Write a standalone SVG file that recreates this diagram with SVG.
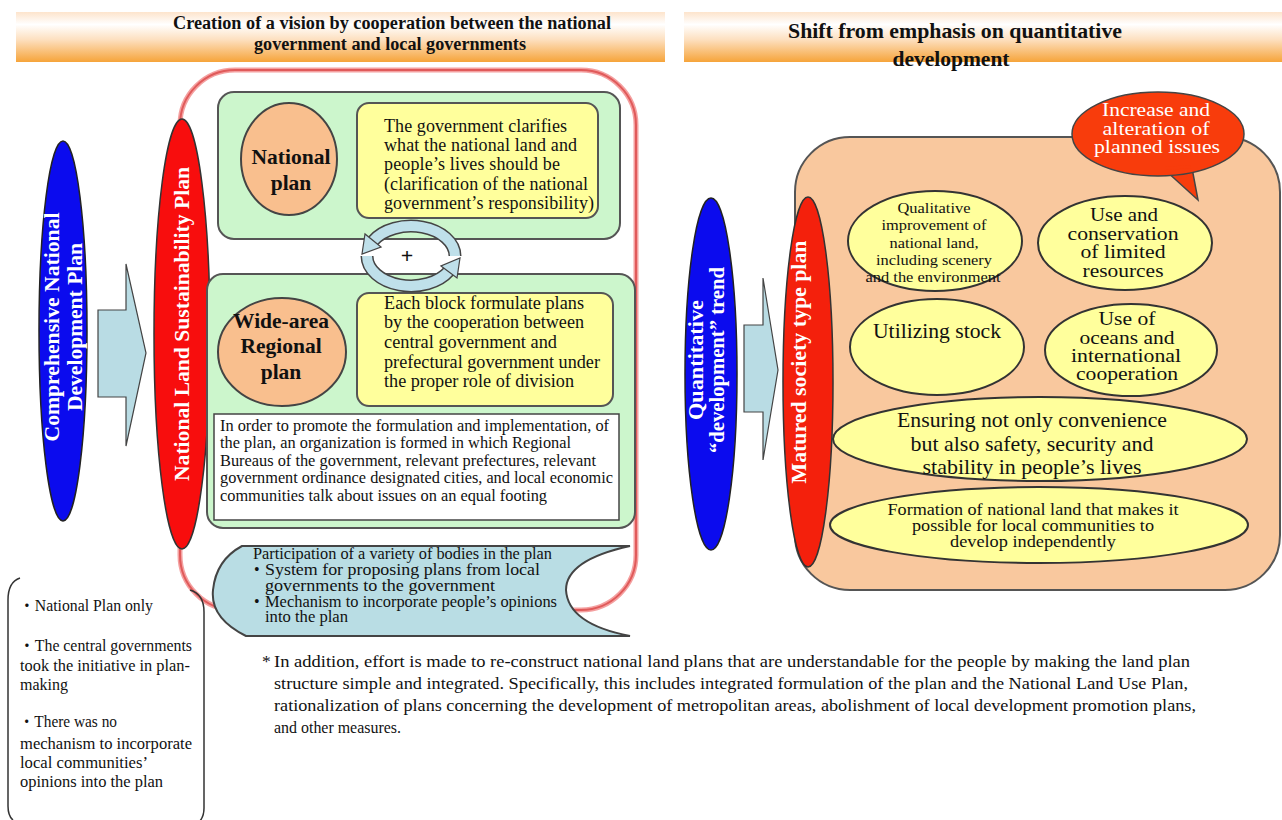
<svg xmlns="http://www.w3.org/2000/svg" width="1282" height="820" viewBox="0 0 1282 820">
<defs>
<linearGradient id="hdr" x1="0" y1="0" x2="0" y2="1">
<stop offset="0" stop-color="#fde4cc"/>
<stop offset="0.25" stop-color="#ffffff"/>
<stop offset="0.55" stop-color="#fde0c0"/>
<stop offset="1" stop-color="#f6a43a"/>
</linearGradient>
<style>
.t{font-family:"Liberation Serif","Times New Roman","Noto Sans CJK JP",serif;fill:#111}
.b{font-weight:bold}
.w{fill:#fff}
.ln{fill:none;stroke:#333;stroke-width:1.5}
.green{fill:#ccf6cc;stroke:#555;stroke-width:2}
.yel{fill:#ffff9c;stroke:#555;stroke-width:2}
.peach{fill:#f9bf8e;stroke:#444;stroke-width:2}
.yell{fill:#ffff9c;stroke:#333;stroke-width:2}
.arw{fill:#b9dce4;stroke:#444;stroke-width:1.2}
</style>
</defs>
<rect width="1282" height="820" fill="#fff"/>

<g id="header-left">
<rect x="16" y="12" width="649" height="50" fill="url(#hdr)"/>
<text class="t b" x="392" y="29" font-size="18" text-anchor="middle" textLength="438" lengthAdjust="spacingAndGlyphs">Creation of a vision by cooperation between the national</text>
<text class="t b" x="390" y="50" font-size="18" text-anchor="middle" textLength="272" lengthAdjust="spacingAndGlyphs">government and local governments</text>
</g>
<g id="header-right">
<rect x="684" y="12" width="598" height="50" fill="url(#hdr)"/>
<text class="t b" x="955" y="38" font-size="21.5" text-anchor="middle" textLength="334" lengthAdjust="spacingAndGlyphs">Shift from emphasis on quantitative</text>
<text class="t b" x="951" y="66" font-size="21.5" text-anchor="middle" textLength="117" lengthAdjust="spacingAndGlyphs">development</text>
</g>

<g id="frame-outline">
<rect x="180" y="70" width="456" height="540" rx="55" fill="none" stroke="#f4a0a0" stroke-width="5"/>
<rect x="180" y="70" width="456" height="540" rx="55" fill="none" stroke="#e05a5a" stroke-width="2"/>
</g>

<g id="connectors">
<path class="arw" d="M98 310 H126 V264 L146 353 L126 446 V397 H98 Z"/>
<path class="arw" d="M744 325 H763 V278 L778 370 L763 460 V412 H744 Z"/>
</g>

<g id="comprehensive-plan">
<ellipse cx="63" cy="331" rx="24" ry="190" fill="#0b0bee" stroke="#222" stroke-width="1.5"/>
<g transform="translate(63,327) rotate(-90)">
<text class="t b w" x="0" y="-4" font-size="21" text-anchor="middle" textLength="229" lengthAdjust="spacingAndGlyphs">Comprehensive National</text>
<text class="t b w" x="0" y="19" font-size="21" text-anchor="middle" textLength="168" lengthAdjust="spacingAndGlyphs">Development Plan</text>
</g>
</g>

<g id="sustainability-plan">
<ellipse cx="182" cy="334" rx="28" ry="215" fill="#f80d0d" stroke="#333" stroke-width="1.5"/>
<text class="t b w" font-size="21.5" text-anchor="middle" textLength="314" lengthAdjust="spacingAndGlyphs" transform="translate(189,324) rotate(-90)">National Land Sustainability Plan</text>
</g>

<g id="national-plan-box">
<rect class="green" x="218" y="92" width="402" height="147" rx="16"/>
<ellipse class="peach" cx="289" cy="159" rx="48" ry="56"/>
<text class="t b" x="291" y="164" font-size="21.5" text-anchor="middle">National</text>
<text class="t b" x="291" y="190" font-size="21.5" text-anchor="middle">plan</text>
<rect class="yel" x="357" y="103" width="241" height="115" rx="12"/>
<g class="t" font-size="18" lengthAdjust="spacingAndGlyphs">
<text x="384" y="132" textLength="183">The government clarifies</text>
<text x="384" y="151" textLength="193">what the national land and</text>
<text x="384" y="170" textLength="176">people’s lives should be</text>
<text x="384" y="190" textLength="204">(clarification of the national</text>
<text x="384" y="209" textLength="210">government’s responsibility)</text>
</g>
</g>

<g id="regional-plan-box">
<rect class="green" x="207" y="274" width="428" height="254" rx="16"/>
<ellipse class="peach" cx="282" cy="352" rx="64" ry="54"/>
<text class="t b" x="281" y="328" font-size="21.5" text-anchor="middle">Wide-area</text>
<text class="t b" x="281" y="353" font-size="21.5" text-anchor="middle">Regional</text>
<text class="t b" x="281" y="379" font-size="21.5" text-anchor="middle">plan</text>
<rect class="yel" x="357" y="293" width="256" height="113" rx="12"/>
<g class="t" font-size="18">
<text x="384" y="309" textLength="200" lengthAdjust="spacingAndGlyphs">Each block formulate plans</text>
<text x="384" y="328" textLength="200" lengthAdjust="spacingAndGlyphs">by the cooperation between</text>
<text x="384" y="348" textLength="173" lengthAdjust="spacingAndGlyphs">central government and</text>
<text x="384" y="368" textLength="216" lengthAdjust="spacingAndGlyphs">prefectural government under</text>
<text x="384" y="387" textLength="190" lengthAdjust="spacingAndGlyphs">the proper role of division</text>
</g>
<rect x="214" y="414" width="405" height="106" fill="#fff" stroke="#444" stroke-width="1.5"/>
<g class="t" font-size="16">
<text x="220" y="431" textLength="389" lengthAdjust="spacingAndGlyphs">In order to promote the formulation and implementation, of</text>
<text x="220" y="448" textLength="351" lengthAdjust="spacingAndGlyphs">the plan, an organization is formed in which Regional</text>
<text x="220" y="466" textLength="376" lengthAdjust="spacingAndGlyphs">Bureaus of the government, relevant prefectures, relevant</text>
<text x="220" y="483" textLength="393" lengthAdjust="spacingAndGlyphs">government ordinance designated cities, and local economic</text>
<text x="220" y="501" textLength="327" lengthAdjust="spacingAndGlyphs">communities talk about issues on an equal footing</text>
</g>
</g>

<g id="cycle">
<path d="M455 256 A44 30 0 0 0 373 241" fill="none" stroke="#444" stroke-width="13"/>
<path d="M455 256 A44 30 0 0 0 373 241" fill="none" stroke="#bfe0ea" stroke-width="10"/>
<polygon points="381,247 365,234 362,254" fill="#bfe0ea" stroke="#444" stroke-width="1.2"/>
<path d="M367 256 A44 30 0 0 0 449 271" fill="none" stroke="#444" stroke-width="13"/>
<path d="M367 256 A44 30 0 0 0 449 271" fill="none" stroke="#bfe0ea" stroke-width="10"/>
<polygon points="441,266 457,278 460,258" fill="#bfe0ea" stroke="#444" stroke-width="1.2"/>
<text class="t b" x="407" y="263" font-size="22" text-anchor="middle">+</text>
</g>

<g id="participation">
<path d="M242 546 L630 546 Q566 560 566 590 Q568 624 630 636 L246 636 Q210 618 213 590 Q216 560 242 546 Z" fill="#b9dde4" stroke="#444" stroke-width="2"/>
<g class="t" font-size="16">
<text x="253" y="559" textLength="299" lengthAdjust="spacingAndGlyphs">Participation of a variety of bodies in the plan</text>
<text x="254" y="575">•</text><text x="265" y="575" textLength="275" lengthAdjust="spacingAndGlyphs">System for proposing plans from local</text>
<text x="265" y="591" textLength="230" lengthAdjust="spacingAndGlyphs">governments to the government</text>
<text x="254" y="607">•</text><text x="265" y="607" textLength="292" lengthAdjust="spacingAndGlyphs">Mechanism to incorporate people’s opinions</text>
<text x="265" y="622" textLength="83" lengthAdjust="spacingAndGlyphs">into the plan</text>
</g>
</g>

<g id="old-plan-notes">
<path class="ln" d="M20 578 Q8 582 8 600 L8 806 Q8 816 13 820"/>
<path class="ln" d="M190 590 Q204 594 204 612 L204 808 Q204 817 199 822"/>
<g class="t" font-size="16">
<text x="19" y="611" textLength="134" lengthAdjust="spacingAndGlyphs">・National Plan only</text>
<text x="19" y="651" textLength="173" lengthAdjust="spacingAndGlyphs">・The central governments</text>
<text x="20" y="671" textLength="170" lengthAdjust="spacingAndGlyphs">took the initiative in plan-</text>
<text x="20" y="690" textLength="48" lengthAdjust="spacingAndGlyphs">making</text>
<text x="19" y="727" textLength="98" lengthAdjust="spacingAndGlyphs">・There was no</text>
<text x="20" y="749" textLength="172" lengthAdjust="spacingAndGlyphs">mechanism to incorporate</text>
<text x="20" y="768" textLength="128" lengthAdjust="spacingAndGlyphs">local communities’</text>
<text x="20" y="787" textLength="143" lengthAdjust="spacingAndGlyphs">opinions into the plan</text>
</g>
</g>

<g id="footnote" class="t" font-size="17.5">
<text x="262" y="667">*</text>
<text x="274" y="667" textLength="916" lengthAdjust="spacingAndGlyphs">In addition, effort is made to re-construct national land plans that are understandable for the people by making the land plan</text>
<text x="274" y="689" textLength="914" lengthAdjust="spacingAndGlyphs">structure simple and integrated. Specifically, this includes integrated formulation of the plan and the National Land Use Plan,</text>
<text x="274" y="711" textLength="922" lengthAdjust="spacingAndGlyphs">rationalization of plans concerning the development of metropolitan areas, abolishment of local development promotion plans,</text>
<text x="274" y="733" textLength="127" lengthAdjust="spacingAndGlyphs">and other measures.</text>
</g>

<g id="matured-box">
<rect x="795" y="137" width="485" height="453" rx="55" fill="#f9c89e" stroke="#555" stroke-width="2"/>
</g>

<g id="quantitative-trend">
<ellipse cx="711" cy="374" rx="26" ry="176" fill="#0b0bee" stroke="#222" stroke-width="1.5"/>
<g transform="translate(711,360) rotate(-90)">
<text class="t b w" x="0" y="-8" font-size="21" text-anchor="middle" textLength="120" lengthAdjust="spacingAndGlyphs">Quantitative</text>
<text class="t b w" x="0" y="13" font-size="21" text-anchor="middle" textLength="186" lengthAdjust="spacingAndGlyphs">“development” trend</text>
</g>
</g>

<g id="matured-plan">
<ellipse cx="808" cy="382" rx="25" ry="185" fill="#f4200c" stroke="#333" stroke-width="1.5"/>
<text class="t b w" font-size="21" text-anchor="middle" textLength="243" lengthAdjust="spacingAndGlyphs" transform="translate(806,362) rotate(-90)">Matured society type plan</text>
</g>

<g id="bubble">
<path d="M1165 170 L1198 200 L1192 168 Z" fill="#f83c0c" stroke="#444" stroke-width="1.5"/>
<ellipse cx="1158" cy="134" rx="86" ry="42" fill="#f83c0c" stroke="#444" stroke-width="1.5"/>
<path d="M1166 168 L1191 167" stroke="#f83c0c" stroke-width="3"/>
<g class="t w" font-size="19.5" text-anchor="middle">
<text x="1156" y="116" textLength="108" lengthAdjust="spacingAndGlyphs">Increase and</text>
<text x="1156" y="135" textLength="107" lengthAdjust="spacingAndGlyphs">alteration of</text>
<text x="1157" y="153" textLength="126" lengthAdjust="spacingAndGlyphs">planned issues</text>
</g>
</g>

<g id="qualitative">
<ellipse class="yell" cx="935" cy="241" rx="87" ry="50"/>
<g class="t" font-size="15" text-anchor="middle">
<text x="934" y="213" textLength="73" lengthAdjust="spacingAndGlyphs">Qualitative</text>
<text x="934" y="230" textLength="105" lengthAdjust="spacingAndGlyphs">improvement of</text>
<text x="934" y="248" textLength="89" lengthAdjust="spacingAndGlyphs">national land,</text>
<text x="934" y="265" textLength="116" lengthAdjust="spacingAndGlyphs">including scenery</text>
<text x="933" y="282" textLength="135" lengthAdjust="spacingAndGlyphs">and the environment</text>
</g>
</g>
<g id="conservation">
<ellipse class="yell" cx="1125" cy="243" rx="87" ry="47"/>
<g class="t" font-size="19.5" text-anchor="middle">
<text x="1124" y="221" textLength="68" lengthAdjust="spacingAndGlyphs">Use and</text>
<text x="1123" y="240" textLength="111" lengthAdjust="spacingAndGlyphs">conservation</text>
<text x="1123" y="258" textLength="85" lengthAdjust="spacingAndGlyphs">of limited</text>
<text x="1123" y="277" textLength="81" lengthAdjust="spacingAndGlyphs">resources</text>
</g>
</g>
<g id="stock">
<ellipse class="yell" cx="937" cy="347" rx="87" ry="48"/>
<text class="t" x="937" y="338" font-size="21" text-anchor="middle" textLength="128" lengthAdjust="spacingAndGlyphs">Utilizing stock</text>
</g>
<g id="oceans">
<ellipse class="yell" cx="1131" cy="350" rx="86" ry="46"/>
<g class="t" font-size="19.5" text-anchor="middle">
<text x="1127" y="325" textLength="57" lengthAdjust="spacingAndGlyphs">Use of</text>
<text x="1127" y="344" textLength="95" lengthAdjust="spacingAndGlyphs">oceans and</text>
<text x="1126" y="362" textLength="110" lengthAdjust="spacingAndGlyphs">international</text>
<text x="1127" y="380" textLength="102" lengthAdjust="spacingAndGlyphs">cooperation</text>
</g>
</g>
<g id="safety">
<ellipse class="yell" cx="1040" cy="439" rx="207" ry="42"/>
<g class="t" font-size="21" text-anchor="middle">
<text x="1032" y="427" textLength="270" lengthAdjust="spacingAndGlyphs">Ensuring not only convenience</text>
<text x="1032" y="451" textLength="243" lengthAdjust="spacingAndGlyphs">but also safety, security and</text>
<text x="1032" y="474" textLength="219" lengthAdjust="spacingAndGlyphs">stability in people’s lives</text>
</g>
</g>
<g id="independent">
<ellipse class="yell" cx="1039" cy="525" rx="209" ry="38"/>
<g class="t" font-size="16.5" text-anchor="middle">
<text x="1033" y="515" textLength="291" lengthAdjust="spacingAndGlyphs">Formation of national land that makes it</text>
<text x="1033" y="531" textLength="242" lengthAdjust="spacingAndGlyphs">possible for local communities to</text>
<text x="1033" y="547" textLength="166" lengthAdjust="spacingAndGlyphs">develop independently</text>
</g>
</g>
</svg>
